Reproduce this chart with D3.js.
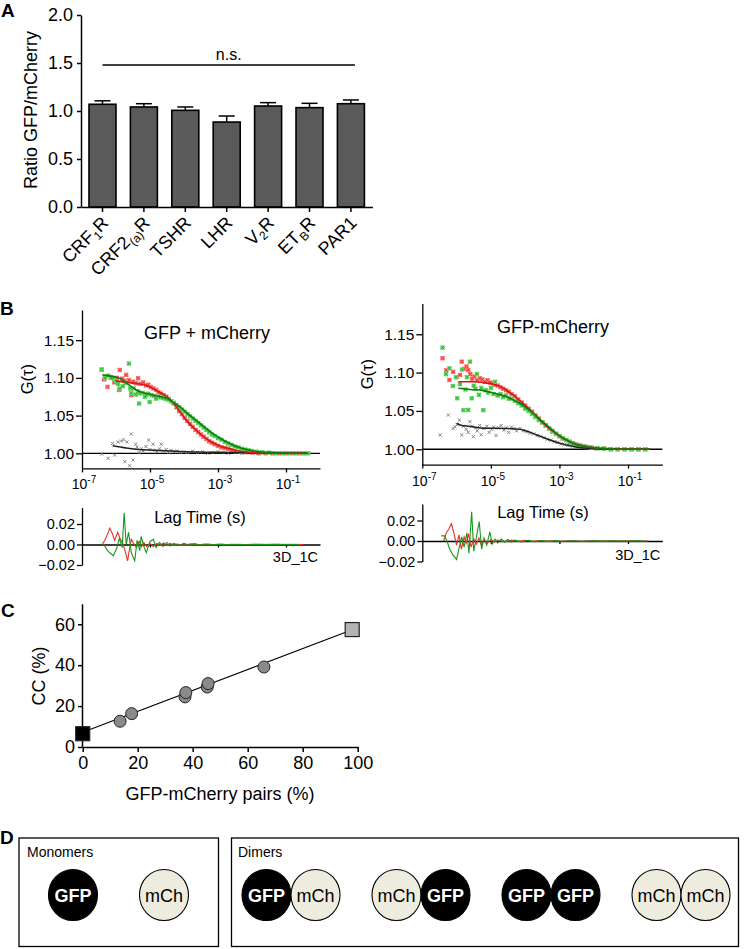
<!DOCTYPE html>
<html><head><meta charset="utf-8">
<script src="https://cdn.jsdelivr.net/npm/d3@7"></script>
<style>
body{margin:0;background:#fff}
svg{display:block}
text{font-family:"Liberation Sans",Arial,Helvetica,sans-serif;fill:#000}
</style>
</head><body>
<svg id="c" width="745" height="949"></svg>
<script>
// ---------------- DATA ----------------
// Panel A
const receptors = ["CRF1R","CRF2(a)R","TSHR","LHR","V2R","ETBR","PAR1"];
const receptorLabelParts = [
  [["CRF",0],["1",1],["R",0]],
  [["CRF2",0],["(a)",1],["R",0]],
  [["TSHR",0]],
  [["LHR",0]],
  [["V",0],["2",1],["R",0]],
  [["ET",0],["B",1],["R",0]],
  [["PAR1",0]]
];
const ratioMeans = [1.070,1.042,1.007,0.885,1.052,1.035,1.076];
const ratioSEM   = [0.036,0.034,0.035,0.063,0.035,0.045,0.039];
const ratioTicks = [0,0.5,1.0,1.5,2.0];
const nsLevel = 1.48;

// Panel B ticks
const lagTicks = [1e-7,1e-5,1e-3,1e-1];
const gTicks = [1.00,1.05,1.10,1.15];
const resTicks = [0.02,0.00,-0.02];

// Panel B left (GFP + mCherry): [log10 lag time, G]
const redPtsL = [[-6.42,1.111],[-6.35,1.098],[-6.25,1.088],[-6.15,1.101],[-6.05,1.094],[-5.98,1.100],[-5.91,1.084],[-5.89,1.1105],[-5.82,1.099],[-5.75,1.096],[-5.7,1.104],[-5.62,1.097],[-5.55,1.077],[-5.5,1.095],[-5.42,1.093],[-5.35,1.0995],[-5.28,1.092],[-5.2,1.094],[-5.12,1.090],[-5.05,1.091],[-4.98,1.088],[-4.9,1.086],[-4.82,1.084],[-4.75,1.081],[-4.68,1.079],[-4.6,1.077],[-4.52,1.075],[-4.45,1.072],[-4.38,1.069],[-4.3,1.066],[-4.22,1.061],[-4.14,1.056],[-4.06,1.052],[-3.98,1.047],[-3.9,1.043],[-3.82,1.039],[-3.74,1.035],[-3.66,1.031],[-3.58,1.028],[-3.5,1.025],[-3.42,1.022],[-3.34,1.019],[-3.26,1.016],[-3.18,1.014],[-3.1,1.012],[-3.0,1.010],[-2.9,1.008],[-2.8,1.007],[-2.7,1.006],[-2.6,1.004],[-2.5,1.003],[-2.35,1.002],[-2.2,1.0015],[-2.0,1.001],[-1.8,1.0],[-1.6,1.0],[-1.4,1.0],[-1.2,1.0],[-1.0,1.0],[-0.8,1.0],[-0.6,1.0],[-0.45,1.0]];
const greenPtsL = [[-6.42,1.111],[-6.32,1.100],[-6.23,1.103],[-6.15,1.100],[-6.08,1.0995],[-6.0,1.096],[-5.94,1.092],[-5.89,1.086],[-5.8,1.089],[-5.72,1.093],[-5.62,1.119],[-5.58,1.086],[-5.55,1.080],[-5.48,1.086],[-5.42,1.078],[-5.36,1.082],[-5.32,1.066],[-5.31,1.0796],[-5.22,1.080],[-5.15,1.075],[-5.11,1.077],[-5.05,1.079],[-5.01,1.068],[-4.95,1.077],[-4.88,1.076],[-4.82,1.0725],[-4.75,1.075],[-4.68,1.074],[-4.6,1.073],[-4.52,1.072],[-4.45,1.071],[-4.38,1.069],[-4.3,1.067],[-4.22,1.064],[-4.14,1.061],[-4.06,1.058],[-3.98,1.055],[-3.9,1.052],[-3.82,1.049],[-3.74,1.046],[-3.66,1.043],[-3.58,1.040],[-3.5,1.037],[-3.42,1.034],[-3.34,1.031],[-3.26,1.028],[-3.18,1.025],[-3.1,1.023],[-3.0,1.020],[-2.9,1.018],[-2.8,1.015],[-2.7,1.013],[-2.6,1.011],[-2.5,1.009],[-2.4,1.008],[-2.3,1.006],[-2.2,1.005],[-2.1,1.004],[-2.0,1.003],[-1.85,1.002],[-1.7,1.0015],[-1.5,1.001],[-1.3,1.0],[-1.1,1.0],[-0.9,1.0],[-0.7,1.0],[-0.5,1.0],[-0.35,1.0]];
const grayPtsL = [[-6.42,0.999],[-6.23,0.9934],[-6.1,1.013],[-6.04,0.9977],[-5.94,1.015],[-5.84,1.0163],[-5.78,1.018],[-5.74,0.9889],[-5.68,1.015],[-5.6,0.9836],[-5.55,1.0256],[-5.5,0.991],[-5.42,1.012],[-5.38,1.008],[-5.32,1.001],[-5.25,1.006],[-5.2,1.003],[-5.12,1.009],[-5.04,1.0176],[-5.0,1.005],[-4.91,1.012],[-4.85,1.004],[-4.8,1.002],[-4.72,1.006],[-4.67,1.012],[-4.6,1.003],[-4.52,1.005],[-4.45,1.001],[-4.38,1.004],[-4.3,1.002],[-4.2,1.003],[-4.1,1.001],[-4.0,1.002],[-3.9,1.001],[-3.75,1.003],[-3.6,1.001],[-3.45,1.002],[-3.3,1.0],[-3.15,1.001],[-3.0,1.002],[-2.85,1.001],[-2.7,1.0],[-2.5,1.001],[-2.3,1.0],[-2.1,1.001],[-1.9,1.0],[-1.7,1.0],[-1.5,1.0],[-1.3,1.0],[-1.1,1.0],[-0.9,1.0],[-0.7,1.0],[-0.5,1.0]];
const redFitL = [[-6.0,1.096],[-5.5,1.093],[-5.1,1.090],[-4.8,1.083],[-4.5,1.075],[-4.3,1.066],[-4.1,1.054],[-3.9,1.042],[-3.65,1.031],[-3.4,1.021],[-3.15,1.014],[-2.9,1.009],[-2.65,1.006],[-2.4,1.003],[-2.1,1.0015],[-1.7,1.0005],[-1.2,1.0],[-0.4,1.0]];
const greenFitL = [[-6.4,1.104],[-5.9,1.0995],[-5.4,1.084],[-4.9,1.077],[-4.5,1.073],[-4.3,1.067],[-4.1,1.061],[-3.9,1.053],[-3.65,1.044],[-3.4,1.035],[-3.15,1.026],[-2.9,1.019],[-2.65,1.013],[-2.4,1.008],[-2.1,1.0044],[-1.8,1.002],[-1.5,1.0013],[-1.0,1.0003],[-0.35,1.0]];
const crossFitL = [[-6.1,1.010],[-5.7,1.007],[-5.4,1.0053],[-4.9,1.004],[-4.4,1.003],[-3.9,1.002],[-3.0,1.0013],[-2.0,1.0005],[-1.0,1.0],[-0.4,1.0]];
const redResL = [[-6.4,0.0],[-6.3,0.006],[-6.18,0.016],[-6.1,0.010],[-6.04,0.004],[-5.95,0.012],[-5.88,0.006],[-5.8,0.001],[-5.72,-0.008],[-5.66,-0.016],[-5.6,-0.004],[-5.55,0.005],[-5.48,0.001],[-5.4,-0.003],[-5.32,0.003],[-5.25,-0.002],[-5.18,0.002],[-5.1,-0.002],[-5.0,0.001],[-4.9,-0.002],[-4.8,0.001],[-4.7,-0.001],[-4.6,0.0015],[-4.5,-0.001],[-4.4,0.001],[-4.3,-0.001],[-4.2,0.0005],[-4.0,-0.0008],[-3.8,0.0006],[-3.6,-0.0005],[-3.4,0.0004],[-3.2,-0.0004],[-3.0,0.0003],[-2.8,-0.0003],[-2.6,0.0002],[-2.3,-0.0002],[-2.0,0.0002],[-1.7,-0.0001],[-1.4,0.0001],[-1.1,0.0],[-0.8,0.0001],[-0.5,0.0]];
const greenResL = [[-6.36,0.0],[-6.25,-0.006],[-6.08,-0.011],[-5.98,-0.004],[-5.9,0.006],[-5.82,-0.003],[-5.76,0.031],[-5.7,0.0],[-5.63,0.012],[-5.55,-0.008],[-5.45,-0.016],[-5.38,0.004],[-5.3,-0.006],[-5.26,0.008],[-5.18,-0.002],[-5.11,-0.008],[-5.0,0.003],[-4.9,0.005],[-4.82,-0.003],[-4.72,0.002],[-4.62,-0.002],[-4.5,0.002],[-4.4,-0.0015],[-4.3,0.001],[-4.15,-0.001],[-4.0,0.0012],[-3.85,-0.0008],[-3.7,0.0008],[-3.5,-0.0006],[-3.3,0.0005],[-3.1,-0.0004],[-2.9,0.0004],[-2.7,-0.0003],[-2.4,0.0002],[-2.1,-0.0002],[-1.8,0.0002],[-1.5,-0.0001],[-1.2,0.0001],[-0.9,0.0],[-0.6,-0.0001]];

// Panel B right (GFP-mCherry)
const redPtsR = [[-6.41,1.1187],[-6.3,1.103],[-6.21,1.0904],[-6.1,1.101],[-6.0,1.094],[-5.9,1.097],[-5.85,1.1143],[-5.78,1.105],[-5.71,1.108],[-5.66,1.1034],[-5.6,1.098],[-5.55,1.092],[-5.48,1.095],[-5.4,1.090],[-5.32,1.0926],[-5.25,1.091],[-5.18,1.088],[-5.1,1.090],[-5.02,1.087],[-4.95,1.086],[-4.88,1.084],[-4.8,1.083],[-4.72,1.081],[-4.64,1.079],[-4.56,1.077],[-4.48,1.075],[-4.4,1.072],[-4.3,1.069],[-4.2,1.065],[-4.1,1.061],[-4.0,1.057],[-3.9,1.053],[-3.8,1.049],[-3.7,1.044],[-3.6,1.040],[-3.5,1.035],[-3.4,1.031],[-3.3,1.027],[-3.2,1.023],[-3.1,1.020],[-3.0,1.017],[-2.9,1.014],[-2.8,1.012],[-2.7,1.010],[-2.6,1.008],[-2.5,1.006],[-2.4,1.005],[-2.3,1.004],[-2.2,1.003],[-2.05,1.002],[-1.9,1.0015],[-1.7,1.001],[-1.5,1.0],[-1.3,1.0],[-1.1,1.0],[-0.9,1.0],[-0.7,1.0],[-0.5,1.0]];
const greenPtsR = [[-6.41,1.1326],[-6.31,1.098],[-6.21,1.1056],[-6.11,1.0826],[-6.02,1.094],[-5.98,1.0665],[-5.9,1.085],[-5.84,1.104],[-5.8,1.051],[-5.74,1.078],[-5.7,1.094],[-5.66,1.0513],[-5.61,1.1143],[-5.56,1.0665],[-5.5,1.083],[-5.45,1.079],[-5.41,1.098],[-5.35,1.071],[-5.28,1.080],[-5.22,1.051],[-5.15,1.077],[-5.08,1.074],[-5.0,1.080],[-4.92,1.072],[-4.88,1.088],[-4.8,1.070],[-4.72,1.072],[-4.64,1.068],[-4.56,1.070],[-4.48,1.066],[-4.4,1.066],[-4.3,1.063],[-4.2,1.060],[-4.1,1.057],[-4.0,1.053],[-3.9,1.050],[-3.8,1.046],[-3.7,1.042],[-3.6,1.038],[-3.5,1.035],[-3.4,1.031],[-3.3,1.027],[-3.2,1.024],[-3.1,1.020],[-3.0,1.017],[-2.9,1.014],[-2.8,1.012],[-2.7,1.009],[-2.6,1.007],[-2.5,1.006],[-2.4,1.005],[-2.25,1.0035],[-2.1,1.0026],[-1.9,1.0015],[-1.7,1.001],[-1.5,1.0],[-1.3,1.0],[-1.1,1.0],[-0.9,1.0],[-0.7,1.0],[-0.5,1.0]];
const grayPtsR = [[-6.48,1.0187],[-6.24,1.0447],[-6.1,1.027],[-6.05,1.0295],[-5.98,1.032],[-5.92,1.038],[-5.85,1.0187],[-5.8,1.030],[-5.72,1.026],[-5.66,1.022],[-5.61,1.036],[-5.55,1.030],[-5.51,1.0164],[-5.45,1.028],[-5.4,1.024],[-5.33,1.031],[-5.28,1.019],[-5.2,1.027],[-5.12,1.030],[-5.05,1.022],[-4.98,1.026],[-4.92,1.029],[-4.85,1.018],[-4.78,1.028],[-4.7,1.031],[-4.62,1.025],[-4.55,1.028],[-4.48,1.022],[-4.4,1.029],[-4.32,1.027],[-4.25,1.024],[-4.15,1.027],[-4.05,1.024],[-3.95,1.023],[-3.85,1.021],[-3.75,1.020],[-3.65,1.018],[-3.55,1.017],[-3.45,1.015],[-3.35,1.013],[-3.25,1.012],[-3.15,1.010],[-3.05,1.009],[-2.95,1.007],[-2.85,1.006],[-2.75,1.005],[-2.62,1.004],[-2.5,1.003],[-2.35,1.002],[-2.2,1.0015],[-2.05,1.001],[-1.9,1.0005],[-1.7,1.0],[-1.5,1.0],[-1.3,1.0],[-1.1,1.0],[-0.9,1.0],[-0.7,1.0],[-0.5,1.0]];
const redFitR = [[-5.95,1.088],[-5.5,1.088],[-5.22,1.087],[-4.95,1.085],[-4.73,1.0817],[-4.55,1.077],[-4.35,1.0708],[-4.15,1.063],[-3.96,1.0556],[-3.75,1.047],[-3.57,1.0382],[-3.38,1.030],[-3.18,1.023],[-2.99,1.017],[-2.79,1.0121],[-2.55,1.007],[-2.31,1.0043],[-2.0,1.002],[-1.62,1.001],[-1.0,1.0],[-0.36,1.0]];
const greenFitR = [[-5.95,1.0796],[-5.6,1.078],[-5.22,1.0765],[-4.9,1.073],[-4.54,1.0686],[-4.35,1.0645],[-4.15,1.06],[-3.96,1.054],[-3.76,1.047],[-3.57,1.039],[-3.37,1.0317],[-3.18,1.024],[-2.99,1.0173],[-2.8,1.0123],[-2.6,1.0078],[-2.35,1.0045],[-2.11,1.0026],[-1.8,1.001],[-1.43,1.0004],[-0.9,1.0],[-0.36,1.0]];
const crossFitR = [[-6.0,1.0339],[-5.85,1.031],[-5.71,1.0304],[-5.5,1.029],[-5.22,1.0274],[-4.9,1.0275],[-4.54,1.0272],[-4.3,1.0265],[-4.06,1.0252],[-3.85,1.022],[-3.66,1.0187],[-3.47,1.0153],[-3.28,1.0121],[-3.05,1.0085],[-2.79,1.0056],[-2.55,1.0033],[-2.31,1.0017],[-2.0,1.0008],[-1.6,1.0003],[-1.0,1.0],[-0.36,1.0]];
const redResR = [[-6.38,0.0],[-6.3,0.008],[-6.22,0.012],[-6.15,0.017],[-6.08,0.008],[-6.0,-0.004],[-5.93,0.006],[-5.86,-0.008],[-5.78,0.004],[-5.72,-0.002],[-5.65,0.007],[-5.58,-0.006],[-5.5,0.002],[-5.42,-0.003],[-5.35,0.003],[-5.28,-0.004],[-5.2,0.001],[-5.1,-0.002],[-5.0,0.0015],[-4.9,-0.001],[-4.8,0.001],[-4.6,-0.001],[-4.4,0.0008],[-4.2,-0.0006],[-4.0,0.0006],[-3.8,-0.0005],[-3.6,0.0004],[-3.4,-0.0004],[-3.2,0.0003],[-3.0,-0.0003],[-2.7,0.0002],[-2.4,-0.0002],[-2.1,0.0002],[-1.8,-0.0001],[-1.5,0.0001],[-1.2,0.0],[-0.9,0.0001],[-0.6,0.0],[-0.4,0.0]];
const greenResR = [[-6.45,0.005],[-6.35,0.005],[-6.28,0.0],[-6.2,-0.008],[-6.1,-0.014],[-6.0,-0.018],[-5.92,-0.006],[-5.85,0.004],[-5.78,-0.006],[-5.7,0.008],[-5.64,-0.012],[-5.56,0.0286],[-5.5,-0.01],[-5.42,0.004],[-5.34,0.019],[-5.27,-0.008],[-5.2,0.003],[-5.12,-0.004],[-5.03,0.009],[-4.96,-0.003],[-4.88,0.002],[-4.8,-0.002],[-4.7,0.002],[-4.6,-0.001],[-4.5,0.0015],[-4.4,-0.001],[-4.3,0.001],[-4.1,-0.0008],[-3.9,0.0007],[-3.7,-0.0006],[-3.5,0.0005],[-3.3,-0.0004],[-3.1,0.0004],[-2.9,-0.0003],[-2.6,0.0003],[-2.3,-0.0002],[-2.0,0.0002],[-1.7,-0.0001],[-1.4,0.0001],[-1.1,0.0],[-0.8,0.0001],[-0.5,0.0]];

// Panel C
const pairsPct = [13.6,17.8,37.2,37.5,45.3,45.6,65.9];
const ccPct    = [12.6,16.3,24.5,26.6,29.3,31.0,39.1];
const controlPairs = [0, 98];     // monomer mix (black), tandem GFP-mCherry (grey)
const controlCC    = [6.5, 57.4];
const fitPairs = [0, 98];
const fitCC    = [7.2, 57.3];
const cXTicks = [0,20,40,60,80,100];
const cYTicks = [0,20,40,60];

// Panel D
const monomers = ["GFP","mCh"];
const dimers = [["GFP","mCh"],["mCh","GFP"],["GFP","GFP"],["mCh","mCh"]];

// ---------------- DRAW ----------------
const svg = d3.select("#c");
const FONT = '"Liberation Sans",Arial,Helvetica,sans-serif';

function styleAxis(sel, fs, sw){
  sel.selectAll("path.domain").attr("stroke","#000").attr("stroke-width",sw);
  sel.selectAll(".tick line").attr("stroke","#000").attr("stroke-width",sw);
  sel.selectAll(".tick text").attr("font-size",fs).attr("font-family",FONT).attr("fill","#000");
}
function panelLabel(t,x,y){
  svg.append("text").attr("x",x).attr("y",y).attr("font-size",19).attr("font-weight","bold").text(t);
}

// ---- Panel A ----
panelLabel("A",1,17);
const xA = d3.scaleBand().domain(receptors).range([81,372.4]).paddingInner(0.348).paddingOuter(0.193);
const yA = d3.scaleLinear().domain([0,2]).range([207,15]);
const gA = svg.append("g");
gA.append("g").attr("transform","translate(81,0)")
  .call(d3.axisLeft(yA).tickValues(ratioTicks).tickFormat(d3.format(".1f")).tickSize(4).tickSizeOuter(0).tickPadding(4))
  .call(s=>styleAxis(s,18,1.5));
gA.selectAll("rect.bar").data(receptors).join("rect").attr("class","bar")
  .attr("x",d=>xA(d)).attr("width",xA.bandwidth())
  .attr("y",(d,i)=>yA(ratioMeans[i])).attr("height",(d,i)=>yA(0)-yA(ratioMeans[i]))
  .attr("fill","#5a5a5a").attr("stroke","#000").attr("stroke-width",1.6);
gA.selectAll("line.err").data(receptors).join("line").attr("class","err")
  .attr("x1",d=>xA(d)+xA.bandwidth()/2).attr("x2",d=>xA(d)+xA.bandwidth()/2)
  .attr("y1",(d,i)=>yA(ratioMeans[i])).attr("y2",(d,i)=>yA(ratioMeans[i]+ratioSEM[i]))
  .attr("stroke","#000").attr("stroke-width",1.5);
gA.selectAll("line.cap").data(receptors).join("line").attr("class","cap")
  .attr("x1",d=>xA(d)+xA.bandwidth()/2-8).attr("x2",d=>xA(d)+xA.bandwidth()/2+8)
  .attr("y1",(d,i)=>yA(ratioMeans[i]+ratioSEM[i])).attr("y2",(d,i)=>yA(ratioMeans[i]+ratioSEM[i]))
  .attr("stroke","#000").attr("stroke-width",1.5);
gA.append("g").attr("transform","translate(0,207)")
  .call(d3.axisBottom(xA).tickSize(5).tickSizeOuter(0).tickFormat(""))
  .call(s=>styleAxis(s,18,1.5));
receptors.forEach((r,i)=>{
  const cx = xA(r)+xA.bandwidth()/2;
  const t = gA.append("text").attr("transform",`translate(${cx+7},${224}) rotate(-45)`)
    .attr("text-anchor","end").attr("font-size",18);
  const parts = receptorLabelParts[i];
  parts.forEach(([s,sub],k)=>{
    const ts = t.append("tspan").text(s).attr("font-size",sub?12:18);
    if(sub) ts.attr("dy",4); else if(k>0 && parts[k-1][1]) ts.attr("dy",-4);
  });
});
// n.s. line
const nsX1 = xA(receptors[0])+xA.bandwidth()/2, nsX2 = xA(receptors[6])+xA.bandwidth()/2+4;
gA.append("line").attr("x1",nsX1).attr("x2",nsX2).attr("y1",yA(nsLevel)).attr("y2",yA(nsLevel)).attr("stroke","#000").attr("stroke-width",1.5);
gA.append("text").attr("x",(nsX1+nsX2)/2).attr("y",yA(nsLevel)-5).attr("text-anchor","middle").attr("font-size",16).text("n.s.");
gA.append("text").attr("transform","translate(37,110) rotate(-90)").attr("text-anchor","middle").attr("font-size",18).text("Ratio GFP/mCherry");

// ---- Panel B ----
panelLabel("B",0,315);
function fcsPanel(cfg){
  const x = d3.scaleLog().domain([1e-7,1]).range([cfg.left,cfg.right]);
  const y = d3.scaleLinear().domain([0.98,1.19]).range([cfg.bottom,cfg.top]);
  const yr = d3.scaleLinear().domain([-0.02,0.036]).range([cfg.rBottom,cfg.rTop]);
  const X = d=>x(Math.pow(10,d[0]));
  const g = svg.append("g");
  g.append("g").attr("transform",`translate(${cfg.left},0)`)
    .call(d3.axisLeft(y).tickValues(gTicks).tickFormat(d3.format(".2f")).tickSize(6).tickSizeOuter(0).tickPadding(2))
    .call(s=>styleAxis(s,15.5,1.3));
  g.append("g").attr("transform",`translate(0,${cfg.bottom})`)
    .call(d3.axisBottom(x).tickValues(lagTicks).tickFormat("").tickSize(4).tickSizeOuter(0))
    .call(s=>styleAxis(s,14,1.3));
  lagTicks.forEach(v=>{
    const t = g.append("text").attr("x",x(v)+2).attr("y",cfg.bottom+21).attr("text-anchor","middle").attr("font-size",14);
    t.append("tspan").text("10");
    t.append("tspan").attr("dy",-6).attr("font-size",10).text(String(Math.round(Math.log10(v))).replace("-","-"));
  });
  g.append("line").attr("x1",cfg.left).attr("x2",cfg.right).attr("y1",y(1)).attr("y2",y(1)).attr("stroke","#000").attr("stroke-width",1.3);
  // points
  function xmarks(data, fill, stroke, withBox){
    const s = g.append("g");
    if(withBox){
      s.selectAll("rect").data(data).join("rect")
        .attr("x",d=>X(d)-2.2).attr("y",d=>y(d[1])-2.2).attr("width",4.4).attr("height",4.4).attr("fill",fill);
    }
    s.selectAll("path").data(data).join("path")
      .attr("d",d=>{const cx=X(d),cy=y(d[1]),r=1.6;return `M${cx-r},${cy-r}L${cx+r},${cy+r}M${cx-r},${cy+r}L${cx+r},${cy-r}`;})
      .attr("stroke",stroke).attr("stroke-width",0.9).attr("fill","none");
  }
  xmarks(cfg.gray,"#bbb","#777",false);
  xmarks(cfg.red,"#ff7b7b","#e8322e",true);
  xmarks(cfg.green,"#6fdc6f","#22b022",true);
  const line = d3.line().x(X).y(d=>y(d[1])).curve(d3.curveMonotoneX);
  g.append("path").attr("d",line(cfg.crossFit)).attr("fill","none").attr("stroke","#222").attr("stroke-width",1.5);
  g.append("path").attr("d",line(cfg.redFit)).attr("fill","none").attr("stroke","#d01818").attr("stroke-width",1.6);
  g.append("path").attr("d",line(cfg.greenFit)).attr("fill","none").attr("stroke","#137a13").attr("stroke-width",1.6);
  g.append("text").attr("x",cfg.titleX).attr("y",cfg.titleY).attr("text-anchor","middle").attr("font-size",18).text(cfg.title);
  g.append("text").attr("transform",`translate(${cfg.gLabX},${(cfg.top+cfg.bottom)/2-10}) rotate(-90)`).attr("text-anchor","middle").attr("font-size",16.5).text("G(τ)");
  // residuals
  g.append("g").attr("transform",`translate(${cfg.left},0)`)
    .call(d3.axisLeft(yr).tickValues(resTicks).tickFormat(d3.format(".2f")).tickSize(5).tickSizeOuter(0).tickPadding(2))
    .call(s=>styleAxis(s,14.5,1.3));
  g.append("g").attr("transform",`translate(0,${yr(0)})`)
    .call(d3.axisBottom(x).tickValues(lagTicks.slice(1)).tickFormat("").tickSize(3).tickSizeOuter(0))
    .call(s=>styleAxis(s,14,1.3));
  const rline = d3.line().x(X).y(d=>yr(d[1]));
  g.append("path").attr("d",rline(cfg.redRes)).attr("fill","none").attr("stroke","#e8302a").attr("stroke-width",1.1);
  g.append("path").attr("d",rline(cfg.greenRes)).attr("fill","none").attr("stroke","#1a951a").attr("stroke-width",1.1);
  g.append("text").attr("x",cfg.lagX).attr("y",cfg.lagY).attr("text-anchor","middle").attr("font-size",16.5).text("Lag Time (s)");
  g.append("text").attr("x",cfg.right-2).attr("y",cfg.modelY).attr("text-anchor","end").attr("font-size",14.5).text("3D_1C");
}
fcsPanel({left:82,right:320,top:310,bottom:468.4,rTop:507.6,rBottom:565,
  red:redPtsL,green:greenPtsL,gray:grayPtsL,redFit:redFitL,greenFit:greenFitL,crossFit:crossFitL,
  redRes:redResL,greenRes:greenResL,title:"GFP + mCherry",titleX:207,titleY:339,gLabX:33,lagX:200,lagY:523,modelY:562});
fcsPanel({left:422.3,right:662.3,top:303.6,bottom:464.6,rTop:504.1,rBottom:561.5,
  red:redPtsR,green:greenPtsR,gray:grayPtsR,redFit:redFitR,greenFit:greenFitR,crossFit:crossFitR,
  redRes:redResR,greenRes:greenResR,title:"GFP-mCherry",titleX:553,titleY:333,gLabX:373,lagX:543,lagY:518,modelY:560});

// ---- Panel C ----
panelLabel("C",1,617);
const xC = d3.scaleLinear().domain([0,100]).range([82.7,357.7]);
const yC = d3.scaleLinear().domain([0,70]).range([747,603.8]);
const gC = svg.append("g");
gC.append("g").attr("transform","translate(82,0)")
  .call(d3.axisLeft(yC).tickValues(cYTicks).tickFormat(d3.format("d")).tickSize(4).tickSizeOuter(0).tickPadding(3))
  .call(s=>styleAxis(s,18,1.5));
gC.append("g").attr("transform","translate(0,747)")
  .call(d3.axisBottom(xC).tickValues(cXTicks).tickFormat(d3.format("d")).tickSize(5).tickSizeOuter(0).tickPadding(4))
  .call(s=>styleAxis(s,18,1.5));
gC.append("line").attr("x1",xC(fitPairs[0])).attr("x2",xC(fitPairs[1])).attr("y1",yC(fitCC[0])).attr("y2",yC(fitCC[1])).attr("stroke","#000").attr("stroke-width",1.1);
gC.selectAll("circle").data(pairsPct).join("circle")
  .attr("cx",d=>xC(d)).attr("cy",(d,i)=>yC(ccPct[i])).attr("r",6)
  .attr("fill","#8a8a8a").attr("stroke","#222").attr("stroke-width",1);
gC.selectAll("rect.ctl").data(controlPairs).join("rect").attr("class","ctl")
  .attr("x",d=>xC(d)-7).attr("y",(d,i)=>yC(controlCC[i])-7).attr("width",14).attr("height",14)
  .attr("fill",(d,i)=>i===0?"#000":"#b4b4b4").attr("stroke","#222").attr("stroke-width",1.2);
gC.append("text").attr("transform","translate(45,676) rotate(-90)").attr("text-anchor","middle").attr("font-size",18).text("CC (%)");
gC.append("text").attr("x",220).attr("y",800).attr("text-anchor","middle").attr("font-size",18).text("GFP-mCherry pairs (%)");

// ---- Panel D ----
panelLabel("D",0,844);
const gD = svg.append("g");
const NARROW = '"Liberation Sans Narrow","Arial Narrow","Liberation Sans",Arial,sans-serif';
gD.append("rect").attr("x",19).attr("y",838).attr("width",199.5).attr("height",108.5).attr("fill","none").attr("stroke","#000").attr("stroke-width",1.3);
gD.append("rect").attr("x",231.5).attr("y",838).attr("width",507).attr("height",108.5).attr("fill","none").attr("stroke","#000").attr("stroke-width",1.3);
gD.append("text").attr("x",27).attr("y",857).attr("font-size",14).attr("font-family",NARROW).text("Monomers");
gD.append("text").attr("x",238).attr("y",857).attr("font-size",14).attr("font-family",NARROW).text("Dimers");
const cy = 895, rx = 24.5, ry = 25.5;
function bead(cx,label){
  const isG = label==="GFP";
  gD.append("ellipse").attr("cx",cx).attr("cy",cy).attr("rx",rx).attr("ry",ry)
    .attr("fill",isG?"#000":"#eeecdf").attr("stroke","#000").attr("stroke-width",1.1);
  gD.append("text").attr("x",cx).attr("y",cy+6.5).attr("text-anchor","middle")
    .attr("font-family",NARROW).attr("font-size",18).attr("font-weight",isG?"bold":"normal")
    .style("fill",isG?"#fff":"#000").text(label);
}
const xMono = d3.scalePoint().domain(d3.range(monomers.length)).range([73,164]);
monomers.forEach((m,i)=>bead(xMono(i),m));
const xDim = d3.scalePoint().domain(d3.range(dimers.length)).range([291,681]);
dimers.forEach((p,i)=>{ bead(xDim(i)-24.5,p[0]); bead(xDim(i)+24.5,p[1]); });
</script>
</body></html>
